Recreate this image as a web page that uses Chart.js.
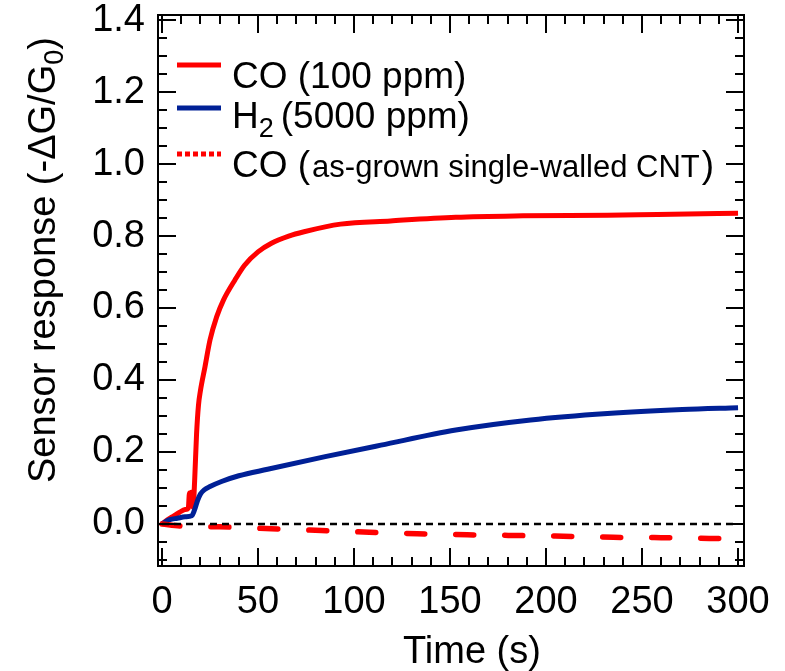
<!DOCTYPE html>
<html>
<head>
<meta charset="utf-8">
<script src="https://cdn.jsdelivr.net/npm/chart.js@4.4.1/dist/chart.umd.min.js"></script>
<style>
  body { margin: 0; background: #fff; }
</style>
</head>
<body>
<canvas id="sensor" width="785" height="671"></canvas>
<script>
// CO 100 ppm on the functionalised CNT
var coTime = [0, 3, 6, 9, 12, 13.7, 14.3, 14.8, 15.3, 16.2, 17, 18, 19, 20, 22.4, 25, 28.5, 32, 38, 43, 50, 57, 66, 74, 93, 119, 153, 188, 232, 258, 300];
var coResp = [0, 0.012, 0.022, 0.032, 0.040, 0.044, 0.086, 0.05, 0.088, 0.046, 0.12, 0.25, 0.33, 0.37, 0.437, 0.511, 0.576, 0.622, 0.678, 0.719, 0.756, 0.78, 0.80, 0.812, 0.833, 0.842, 0.852, 0.856, 0.858, 0.860, 0.863];

// H2 5000 ppm
var h2Time = [0, 4, 8, 12, 15.5, 17, 18.5, 20, 22, 25, 31, 40, 55, 85, 114, 153, 192, 232, 271, 300];
var h2Resp = [0, 0.012, 0.016, 0.02, 0.023, 0.04, 0.065, 0.083, 0.095, 0.104, 0.118, 0.134, 0.152, 0.187, 0.219, 0.261, 0.289, 0.307, 0.318, 0.323];

// CO on as-grown single-walled CNT
var grownTime = [0, 10, 30, 57, 83, 108, 133, 159, 184, 209, 235, 260, 285, 300];
var grownResp = [0, -0.006, -0.008, -0.013, -0.018, -0.023, -0.027, -0.030, -0.032, -0.034, -0.037, -0.038, -0.040, -0.040];

var baseTime = [0, 300];
var baseResp = [0, 0];

var xTicks = [0, 50, 100, 150, 200, 250, 300];
var yTicks = [0, 0.2, 0.4, 0.6, 0.8, 1.0, 1.2, 1.4];

var FONT = "'Liberation Sans', Arial, sans-serif";

function pts(t, v) {
  return t.map(function (x, i) { return { x: x, y: v[i] }; });
}

// draws a string made of runs, some of them subscripts
function drawRuns(ctx, runs, x, y) {
  runs.forEach(function (r) {
    ctx.font = r.size + 'px ' + FONT;
    ctx.fillText(r.t, x, y + (r.dy || 0));
    x += ctx.measureText(r.t).width + (r.gap || 0);
  });
}

var frame = {
  id: 'frame',
  afterDraw: function (chart) {
    var ctx = chart.ctx, a = chart.chartArea;
    var xs = chart.scales.x, ys = chart.scales.y;
    ctx.save();
    ctx.strokeStyle = '#000';
    ctx.lineWidth = 2;
    ctx.strokeRect(a.left, a.top, a.right - a.left, a.bottom - a.top);

    // ticks point inward on all four sides
    ctx.beginPath();
    for (var v = 0; v <= 300; v += 10) {
      var px = Math.round(xs.getPixelForValue(v));
      var len = v % 50 === 0 ? 18 : 9;
      ctx.moveTo(px, a.bottom); ctx.lineTo(px, a.bottom - len);
      ctx.moveTo(px, a.top); ctx.lineTo(px, a.top + len);
    }
    for (var k = -2; k <= 28; k++) {
      var py = Math.round(ys.getPixelForValue(k * 0.05));
      if (py < a.top || py > a.bottom) continue;
      var l = k % 4 === 0 ? 18 : 9;
      ctx.moveTo(a.left, py); ctx.lineTo(a.left + l, py);
      ctx.moveTo(a.right, py); ctx.lineTo(a.right - l, py);
    }
    ctx.stroke();

    // legend
    ctx.fillStyle = '#000';
    ctx.textBaseline = 'alphabetic';
    ctx.textAlign = 'left';
    var rows = [
      { color: 'rgb(255,0,0)', dash: [], ly: 65, by: 88,
        runs: [{ t: 'CO (100 ppm)', size: 37 }] },
      { color: 'rgb(0,32,150)', dash: [], ly: 108, by: 128,
        runs: [{ t: 'H', size: 37 }, { t: '2', size: 27, dy: 9, gap: 7 }, { t: '(5000 ppm)', size: 37 }] },
      { color: 'rgb(255,0,0)', dash: [5, 3], ly: 154, by: 177,
        runs: [{ t: 'CO (', size: 37, gap: 2 }, { t: 'as-grown single-walled CNT', size: 31, gap: 2 }, { t: ')', size: 37 }] }
    ];
    rows.forEach(function (r) {
      ctx.save();
      ctx.strokeStyle = r.color;
      ctx.lineWidth = 5;
      ctx.setLineDash(r.dash);
      ctx.beginPath();
      ctx.moveTo(177, r.ly); ctx.lineTo(221, r.ly);
      ctx.stroke();
      ctx.restore();
      drawRuns(ctx, r.runs, 232, r.by);
    });

    // axis titles
    ctx.save();
    ctx.translate(55, 483);
    ctx.rotate(-Math.PI / 2);
    drawRuns(ctx, [{ t: 'Sensor response (-\u0394G/G', size: 38 }, { t: '0', size: 27, dy: 8 }, { t: ')', size: 38 }], 0, 0);
    ctx.restore();
    drawRuns(ctx, [{ t: 'Time (s)', size: 38 }], 403, 663);
    ctx.restore();
  }
};

new Chart(document.getElementById('sensor'), {
  type: 'line',
  data: {
    datasets: [
      { label: 'baseline', data: pts(baseTime, baseResp), borderColor: '#000', borderWidth: 2.5, borderDash: [7, 5] },
      { label: 'CO (as-grown single-walled CNT)', data: pts(grownTime, grownResp), borderColor: 'rgb(255,0,0)', borderWidth: 5.5, borderDash: [18, 31], borderCapStyle: 'round' },
      { label: 'H2 (5000 ppm)', data: pts(h2Time, h2Resp), borderColor: 'rgb(0,32,150)', borderWidth: 5 },
      { label: 'CO (100 ppm)', data: pts(coTime, coResp), borderColor: 'rgb(255,0,0)', borderWidth: 5 }
    ]
  },
  options: {
    responsive: false,
    animation: false,
    elements: { point: { radius: 0 }, line: { cubicInterpolationMode: 'monotone', borderJoinStyle: 'round' } },
    layout: { padding: { top: 15, right: 41, left: 0, bottom: 0 } },
    plugins: { legend: { display: false }, tooltip: { enabled: false } },
    scales: {
      x: {
        type: 'linear', min: -2.08, max: 303.1,
        grid: { display: false, drawTicks: false },
        border: { display: false },
        afterBuildTicks: function (s) { s.ticks = xTicks.map(function (v) { return { value: v }; }); },
        afterFit: function (s) { s.height = 105; s.paddingLeft = 0; s.paddingRight = 0; },
        ticks: { color: '#000', font: { family: FONT, size: 38 }, padding: 14, maxRotation: 0, callback: function (v) { return v; } }
      },
      y: {
        type: 'linear', min: -0.1167, max: 1.414,
        grid: { display: false, drawTicks: false },
        border: { display: false },
        afterBuildTicks: function (s) { s.ticks = yTicks.map(function (v) { return { value: v }; }); },
        afterFit: function (s) { s.width = 158; s.paddingTop = 0; s.paddingBottom = 0; },
        ticks: { color: '#000', font: { family: FONT, size: 38 }, padding: 13, callback: function (v) { return v.toFixed(1); } }
      }
    }
  },
  plugins: [frame]
});
</script>
</body>
</html>
